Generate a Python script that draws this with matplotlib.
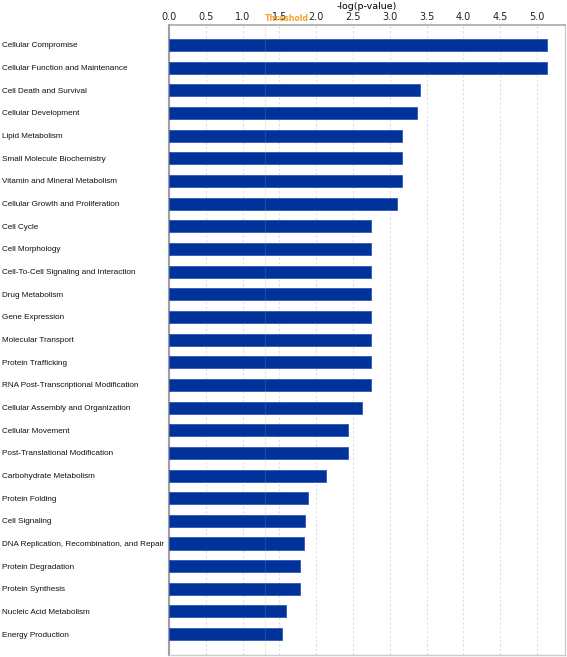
import matplotlib
matplotlib.use("Agg")
import matplotlib.pyplot as plt
import numpy as np

categories = [
    "Cellular Compromise",
    "Cellular Function and Maintenance",
    "Cell Death and Survival",
    "Cellular Development",
    "Lipid Metabolism",
    "Small Molecule Biochemistry",
    "Vitamin and Mineral Metabolism",
    "Cellular Growth and Proliferation",
    "Cell Cycle",
    "Cell Morphology",
    "Cell-To-Cell Signaling and Interaction",
    "Drug Metabolism",
    "Gene Expression",
    "Molecular Transport",
    "Protein Trafficking",
    "RNA Post-Transcriptional Modification",
    "Cellular Assembly and Organization",
    "Cellular Movement",
    "Post-Translational Modification",
    "Carbohydrate Metabolism",
    "Protein Folding",
    "Cell Signaling",
    "DNA Replication, Recombination, and Repair",
    "Protein Degradation",
    "Protein Synthesis",
    "Nucleic Acid Metabolism",
    "Energy Production",
]
values = [5.14, 5.14, 3.41, 3.37, 3.17, 3.17, 3.17, 3.10,
          2.74, 2.74, 2.74, 2.74, 2.74, 2.74, 2.74, 2.74,
          2.62, 2.43, 2.43, 2.13, 1.89, 1.85, 1.83, 1.78, 1.78, 1.59, 1.54]
xticks = [0.0, 0.5, 1.0, 1.5, 2.0, 2.5, 3.0, 3.5, 4.0, 4.5, 5.0]
threshold = 1.3

fig = plt.figure(figsize=(5.67, 6.57), dpi=100)
ax = fig.add_axes([169/567, (657-655)/657, (565-169)/567, (655-25)/657])

y = np.arange(len(categories))
ax.barh(y, values, height=0.53, color="#003399", edgecolor="#3355bb", linewidth=0.6, zorder=3)

ax.set_ylim(len(categories) - 1 + 0.92, -0.88)
ax.set_xlim(0, 5.38)

ax.set_xticks(xticks)
ax.set_xticklabels([f"{t:.1f}" for t in xticks])
ax.xaxis.tick_top()
ax.xaxis.set_label_position("top")
ax.set_xlabel("-log(p-value)", fontsize=6.8, labelpad=1.5)
ax.tick_params(axis="x", length=0, pad=2.5, labelsize=7.0, colors="#222222")

ax.set_yticks(y)
ax.set_yticklabels(categories, fontsize=5.9, ha="left", family="Liberation Sans")
ax.tick_params(axis="y", length=0, pad=120, colors="#111111")

ax.grid(axis="x", linestyle=(0, (2, 2)), color="#dddddd", linewidth=0.8, zorder=0)
ax.axvline(threshold, color="#ffffff", alpha=0.12, linewidth=0.8, zorder=4)
ax.axvline(threshold, color="#f3ead8", linewidth=0.8, zorder=1)
ax.text(threshold, -0.95, "Threshold", color="#f5a623", fontsize=5.6,
        fontweight="bold", ha="left", va="bottom", zorder=5)

ax.spines["left"].set_color("#a0a0a0")
ax.spines["left"].set_linewidth(1.5)
ax.spines["top"].set_color("#a8a8a8")
ax.spines["top"].set_linewidth(1.2)
for s in ["right", "bottom"]:
    ax.spines[s].set_color("#cccccc")
    ax.spines[s].set_linewidth(1.0)

fig.savefig("out.png", dpi=100)
